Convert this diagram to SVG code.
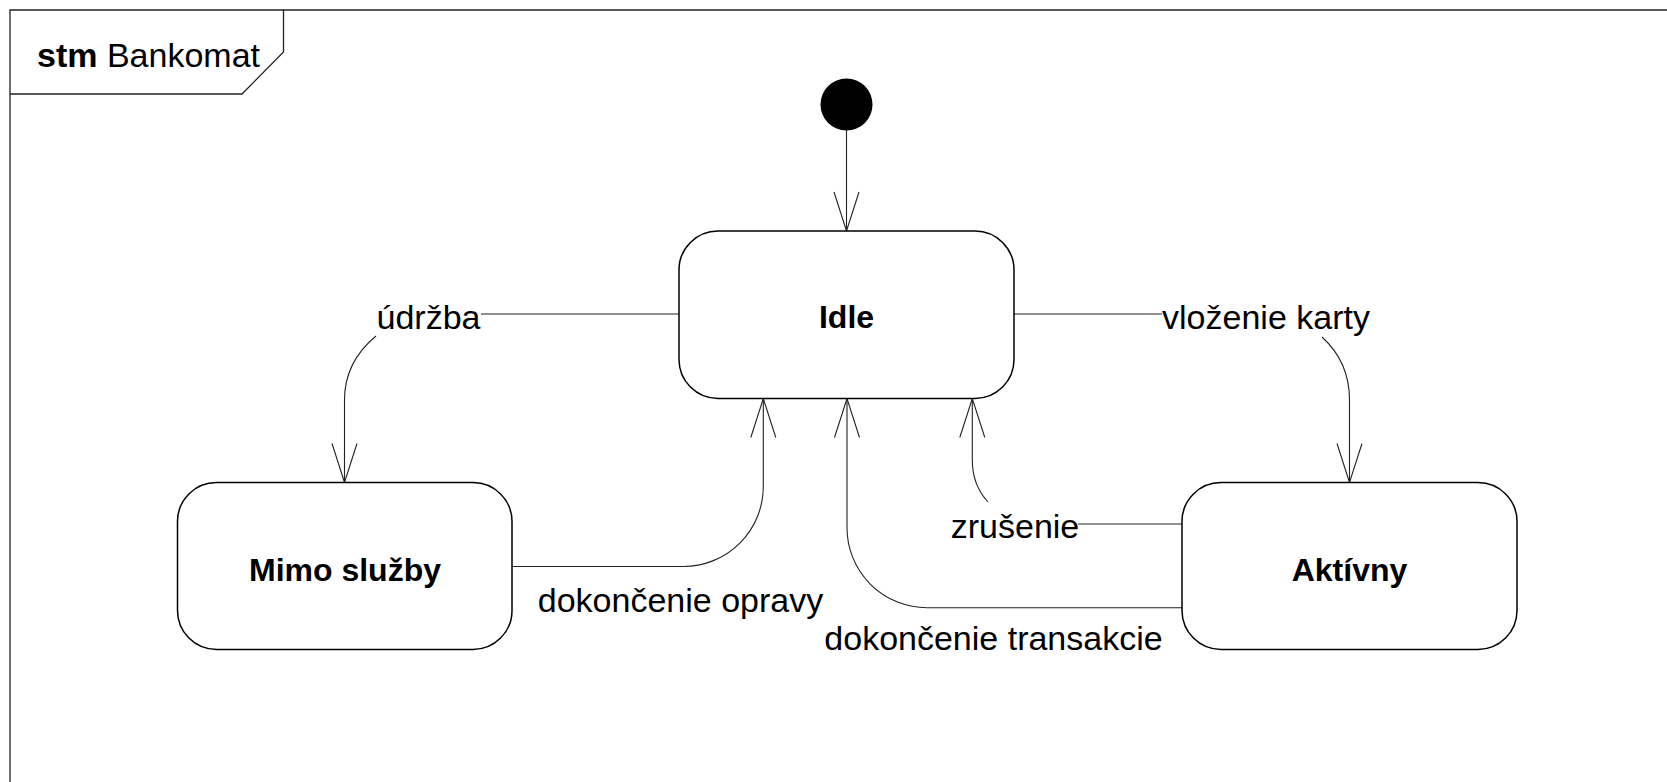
<svg xmlns="http://www.w3.org/2000/svg" width="1667" height="782" viewBox="0 0 1667 782">
<style>
.frame{fill:none;stroke:#222;stroke-width:1.3}
.node{fill:#fff;stroke:#000;stroke-width:1.5}
.conn{fill:none;stroke:#222;stroke-width:1.1}
.lbl{font-family:"Liberation Sans",Arial,sans-serif;font-size:34px;fill:#000}
.nlbl{font-family:"Liberation Sans",Arial,sans-serif;font-size:32px;font-weight:bold;fill:#000;text-anchor:middle}
</style>
<defs>
<marker id="arr" markerUnits="userSpaceOnUse" markerWidth="44" markerHeight="32" viewBox="-41 -16 44 32" refX="0" refY="0" orient="auto">
<path d="M-39,-12.5 L0,0 L-39,12.5" fill="none" stroke="#222" stroke-width="1.1"/>
</marker>
</defs>
<rect x="0" y="0" width="1667" height="782" fill="#fff"/>
<g id="frame">
<path class="frame" d="M10,782 L10,10 L1667,10"/>
<path class="frame" d="M10,94 L242,94 L283.5,52 L283.5,10"/>
<text x="37" y="67" class="lbl"><tspan font-weight="bold">stm</tspan> Bankomat</text>
</g>
<g id="connectors">
<line class="conn" x1="846.5" y1="130" x2="846.5" y2="231" marker-end="url(#arr)"/>
<line class="conn" x1="679" y1="314" x2="481" y2="314"/>
<path class="conn" d="M376,336 Q344.5,362 344.5,400 L344.5,482.5" marker-end="url(#arr)"/>
<text x="428.5" y="329" class="lbl" text-anchor="middle">údržba</text>
<line class="conn" x1="1014" y1="314" x2="1162" y2="314"/>
<path class="conn" d="M1322,337 Q1349.5,362 1349.5,400 L1349.5,482.5" marker-end="url(#arr)"/>
<text x="1266" y="329" class="lbl" text-anchor="middle">vloženie karty</text>
<path class="conn" d="M512,566.5 L683.3,566.5 A80,80 0 0 0 763.3,486.5 L763.3,398.5" marker-end="url(#arr)"/>
<text x="680.5" y="612" class="lbl" text-anchor="middle">dokončenie opravy</text>
<line class="conn" x1="1182" y1="524" x2="1078" y2="524"/>
<path class="conn" d="M988,502 Q972.3,485 972.3,460 L972.3,398.5" marker-end="url(#arr)"/>
<text x="1015" y="538" class="lbl" text-anchor="middle">zrušenie</text>
<path class="conn" d="M1182,607.7 L927,607.7 A80,80 0 0 1 847,527.7 L847,398.5" marker-end="url(#arr)"/>
<text x="993.5" y="650" class="lbl" text-anchor="middle">dokončenie transakcie</text>
</g>
<g id="initial">
<circle cx="846.5" cy="104.5" r="26" fill="#000"/>
</g>
<g id="idle">
<rect class="node" x="679" y="231" width="335" height="167.5" rx="39" ry="39"/>
<text x="846.5" y="328" class="nlbl">Idle</text>
</g>
<g id="mimo">
<rect class="node" x="177.5" y="482.5" width="334.5" height="167" rx="39" ry="39"/>
<text x="345" y="581" class="nlbl">Mimo služby</text>
</g>
<g id="aktivny">
<rect class="node" x="1182" y="482.5" width="335" height="167" rx="39" ry="39"/>
<text x="1349.5" y="581" class="nlbl">Aktívny</text>
</g>
</svg>
